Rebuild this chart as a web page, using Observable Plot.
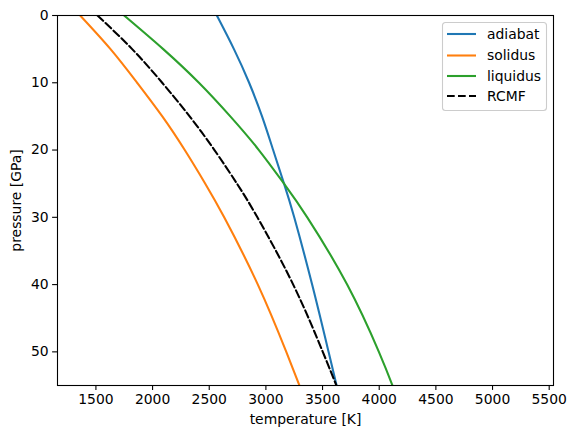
<!DOCTYPE html>
<html>
<head>
<meta charset="utf-8">
<script src="https://cdn.jsdelivr.net/npm/d3@7"></script>
<script src="https://cdn.jsdelivr.net/npm/@observablehq/plot@0.6"></script>
<style>
  html, body { margin: 0; padding: 0; background: #fff; }
  #chart { position: relative; width: 576px; height: 438px; }
  svg { font-family: "DejaVu Sans", sans-serif; }
</style>
</head>
<body>
<div id="chart"></div>
<script>
// Pressure levels (GPa) at which temperatures (K) were read
const pressure = [0, 5, 10, 15, 20, 25, 30, 40, 50, 55];
const adiabat  = [2567, 2718, 2852, 2966, 3064, 3160, 3250, 3408, 3553, 3624];
const solidus  = [1361, 1629, 1864, 2086, 2284, 2465, 2632, 2929, 3180, 3296];
const liquidus = [1749, 2094, 2409, 2686, 2938, 3160, 3365, 3717, 3997, 4117];
const rcmf     = [1514, 1820, 2085, 2327, 2546, 2745, 2925, 3241, 3502, 3622];

const seriesNames = ["adiabat", "solidus", "liquidus", "RCMF"];
const seriesValues = [adiabat, solidus, liquidus, rcmf];
const seriesColors = ["#1f77b4", "#ff7f0e", "#2ca02c", "#000000"];
const seriesDash = [null, null, null, "7.7,3.3"];

const xTicks = [1500, 2000, 2500, 3000, 3500, 4000, 4500, 5000, 5500];
const yTicks = [0, 10, 20, 30, 40, 50];

const table = (vals) => pressure.map((p, i) => ({P: p, T: vals[i]}));

const lines = seriesNames.map((name, k) =>
  Plot.line(table(seriesValues[k]), {
    x: "T", y: "P",
    stroke: seriesColors[k],
    strokeWidth: 2.08,
    strokeDasharray: seriesDash[k],
    curve: "natural",
    clip: true
  })
);

const chart = Plot.plot({
  width: 576,
  height: 438,
  marginLeft: 57,
  marginRight: 23,
  marginTop: 15,
  marginBottom: 53,
  style: {fontFamily: "DejaVu Sans, sans-serif", fontSize: "13.9px", color: "#000", background: "#fff"},
  x: {domain: [1161, 5538]},
  y: {domain: [0, 55], reverse: true},
  marks: [
    ...lines,
    Plot.frame({stroke: "black", strokeWidth: 1.1}),
    Plot.axisX({ticks: xTicks, tickSize: 4.9, tickPadding: 4, tickFormat: d => String(d),
      label: "temperature [K]", labelAnchor: "center", labelArrow: "none", labelOffset: 38, strokeWidth: 1.1}),
    Plot.axisY({ticks: yTicks, tickSize: 4.9, tickPadding: 4, tickFormat: d => String(d),
      label: "pressure [GPa]", labelAnchor: "center", labelArrow: "none", labelOffset: 46, strokeWidth: 1.1})
  ]
});

document.getElementById("chart").appendChild(chart);

// Legend (drawn into the same SVG)
const svg = d3.select(chart);
const lg = svg.append("g").attr("transform", "translate(442.5,22.5)");
lg.append("rect").attr("width", 104).attr("height", 88).attr("rx", 3)
  .attr("fill", "white").attr("fill-opacity", 0.8).attr("stroke", "#cccccc").attr("stroke-width", 1.1);
const rowY = [11.5, 33, 53.5, 73.5];
seriesNames.forEach((name, k) => {
  lg.append("line").attr("x1", 4.5).attr("x2", 33.5).attr("y1", rowY[k]).attr("y2", rowY[k])
    .attr("stroke", seriesColors[k]).attr("stroke-width", 2.08)
    .attr("stroke-dasharray", seriesDash[k]);
  lg.append("text").attr("x", 44.5).attr("y", rowY[k]).attr("dy", "0.35em")
    .attr("text-anchor", "start")
    .attr("font-size", "13.9px").attr("fill", "#000").text(name);
});
</script>
</body>
</html>
